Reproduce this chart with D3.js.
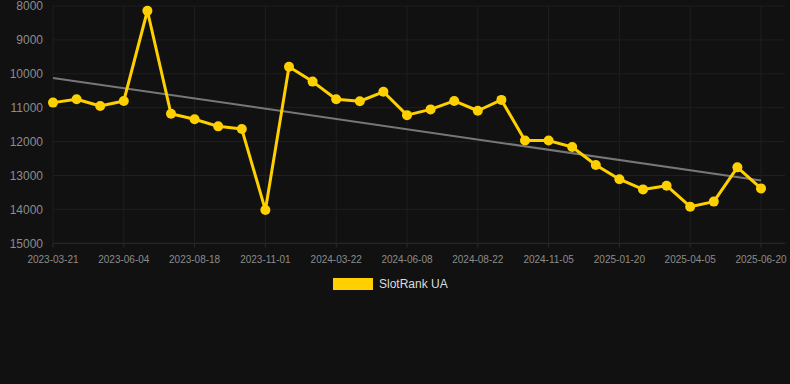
<!DOCTYPE html>
<html>
<head>
<meta charset="utf-8">
<script src="https://cdn.jsdelivr.net/npm/d3@7"></script>
<style>
  html, body { margin: 0; padding: 0; background: #111111; }
  svg { display: block; font-family: "Liberation Sans", Arial, sans-serif; }
</style>
</head>
<body>
<svg id="chart" width="790" height="384"></svg>
<script>
// data points (rank position, lower is better)
var dates = [
  '2023-03-21', '2023-04-15', '2023-05-10', '2023-06-04', '2023-06-29', '2023-07-24',
  '2023-08-18', '2023-09-12', '2023-10-07', '2023-11-01', '2023-12-15', '2024-02-05',
  '2024-03-22', '2024-04-17', '2024-05-13', '2024-06-08', '2024-07-03', '2024-07-28',
  '2024-08-22', '2024-09-16', '2024-10-11', '2024-11-05', '2024-11-30', '2024-12-25',
  '2025-01-20', '2025-02-14', '2025-03-11', '2025-04-05', '2025-04-30', '2025-05-25',
  '2025-06-20'
];
var rankValues = [
  10850, 10750, 10950, 10800, 8140, 11180,
  11340, 11550, 11630, 14020, 9790, 10230,
  10750, 10810, 10530, 11220, 11050, 10800,
  11090, 10770, 11970, 11970, 12160, 12690,
  13110, 13410, 13300, 13920, 13770, 12760,
  13380
];
var xTickLabels = [
  '2023-03-21', '2023-06-04', '2023-08-18', '2023-11-01', '2024-03-22', '2024-06-08',
  '2024-08-22', '2024-11-05', '2025-01-20', '2025-04-05', '2025-06-20'
];
var yTicks = [8000, 9000, 10000, 11000, 12000, 13000, 14000, 15000];
var seriesName = 'SlotRank UA';

(function () {
  var svg = d3.select('#chart');
  var plotLeft = 53, plotRight = 785, plotTop = 6, plotBottom = 243.3;

  var x = d3.scalePoint()
    .domain(dates)
    .range([53, 761]);

  var y = d3.scaleLinear()
    .domain([8000, 15000])
    .range([plotTop, plotBottom]);

  // grid
  svg.append('g')
    .selectAll('line')
    .data(yTicks)
    .join('line')
    .attr('x1', plotLeft).attr('x2', plotRight)
    .attr('y1', function (d) { return y(d); })
    .attr('y2', function (d) { return y(d); })
    .attr('stroke', function (d) { return d === 15000 ? '#2e2e2e' : '#1f1f1f'; })
    .attr('stroke-width', 1);

  svg.append('g')
    .selectAll('line')
    .data(xTickLabels)
    .join('line')
    .attr('x1', function (d) { return x(d); })
    .attr('x2', function (d) { return x(d); })
    .attr('y1', plotTop).attr('y2', plotBottom)
    .attr('stroke', '#1f1f1f')
    .attr('stroke-width', 1);

  // small tick marks under the axis
  svg.append('g')
    .selectAll('line')
    .data(xTickLabels)
    .join('line')
    .attr('x1', function (d) { return x(d); })
    .attr('x2', function (d) { return x(d); })
    .attr('y1', plotBottom).attr('y2', plotBottom + 4)
    .attr('stroke', '#2e2e2e');

  // y labels
  svg.append('g')
    .selectAll('text')
    .data(yTicks)
    .join('text')
    .attr('x', 43)
    .attr('y', function (d) { return y(d); })
    .attr('dy', '0.35em')
    .attr('text-anchor', 'end')
    .attr('fill', '#8c8c8c')
    .style('font-size', '12px')
    .text(function (d) { return d; });

  // x labels
  svg.append('g')
    .selectAll('text')
    .data(xTickLabels)
    .join('text')
    .attr('x', function (d) { return x(d); })
    .attr('y', 259)
    .attr('dy', '0.35em')
    .attr('text-anchor', 'middle')
    .attr('fill', '#8c8c8c')
    .style('font-size', '10px')
    .text(function (d) { return d; });

  // linear trend (least squares over point index)
  var n = rankValues.length;
  var idx = d3.range(n);
  var mx = d3.mean(idx);
  var my = d3.mean(rankValues);
  var sxy = d3.sum(rankValues, function (v, i) { return (i - mx) * (v - my); });
  var sxx = d3.sum(idx, function (i) { return (i - mx) * (i - mx); });
  var slope = sxy / sxx;
  var icpt = my - slope * mx;

  svg.append('line')
    .attr('x1', x(dates[0]))
    .attr('y1', y(icpt))
    .attr('x2', x(dates[n - 1]))
    .attr('y2', y(icpt + slope * (n - 1)))
    .attr('stroke', '#777777')
    .attr('stroke-width', 2);

  // series line
  var line = d3.line()
    .x(function (d, i) { return x(dates[i]); })
    .y(function (d) { return y(d); });

  svg.append('path')
    .datum(rankValues)
    .attr('fill', 'none')
    .attr('stroke', '#FFD000')
    .attr('stroke-width', 3)
    .attr('stroke-linejoin', 'round')
    .attr('d', line);

  svg.append('g')
    .selectAll('circle')
    .data(rankValues)
    .join('circle')
    .attr('cx', function (d, i) { return x(dates[i]); })
    .attr('cy', function (d) { return y(d); })
    .attr('r', 5)
    .attr('fill', '#FFD000');

  // legend
  svg.append('rect')
    .attr('x', 333).attr('y', 278)
    .attr('width', 40).attr('height', 12)
    .attr('fill', '#FFD000');

  svg.append('text')
    .attr('x', 379).attr('y', 284)
    .attr('dy', '0.35em')
    .attr('fill', '#dddddd')
    .style('font-size', '12px')
    .text(seriesName);
}());
</script>
</body>
</html>
